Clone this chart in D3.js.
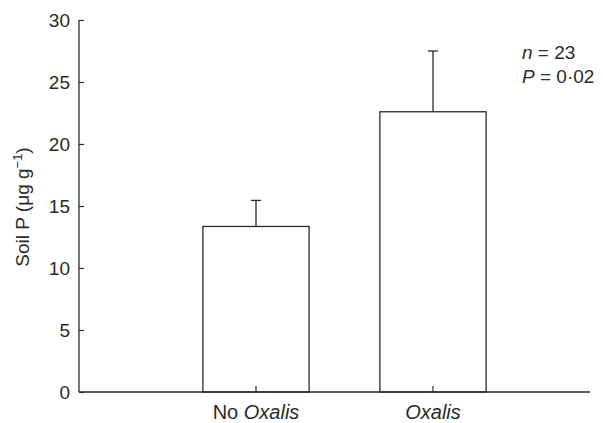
<!DOCTYPE html>
<html><head><meta charset="utf-8">
<script src="https://cdn.jsdelivr.net/npm/d3@7"></script>
<style>body{margin:0;background:#fff;} svg{display:block;font-family:"Liberation Sans",Arial,sans-serif;}</style>
</head><body><svg id="c" width="603" height="423"></svg>
<script>
const categories = ["No Oxalis", "Oxalis"];
const means = [13.35, 22.6];
const errors = [2.1, 4.9];
const yTicks = [0, 5, 10, 15, 20, 25, 30];

const svg = d3.select("#c");
const ink = "#2a2a2a";
const y = d3.scaleLinear().domain([0, 30]).range([392, 20]);
const x = d3.scaleBand().domain(categories).range([167.5, 521.5]).paddingInner(0.4).paddingOuter(0.2);
const axisLeftX = 79, axisRightX = 590;

// y axis
const ya = svg.append("g").attr("transform", `translate(${axisLeftX},0)`)
  .call(d3.axisRight(y).tickValues(yTicks).tickSize(5).tickFormat(d3.format("d")));
ya.select(".domain").remove();
ya.selectAll(".tick line").attr("stroke", ink).attr("stroke-width", 1.2);
ya.selectAll(".tick text").attr("x", -9).attr("text-anchor", "end").attr("dy", "0.36em")
  .attr("fill", ink).style("font-size", "19px").style("font-family", '"Liberation Sans",Arial,sans-serif');
svg.append("line").attr("x1", axisLeftX).attr("x2", axisLeftX).attr("y1", y(30)).attr("y2", y(0))
  .attr("stroke", ink).attr("stroke-width", 1.3);

// bars
const g = svg.append("g");
g.selectAll("rect").data(categories).join("rect")
  .attr("x", d => x(d)).attr("width", x.bandwidth())
  .attr("y", (d, i) => y(means[i])).attr("height", (d, i) => y(0) - y(means[i]))
  .attr("fill", "#fff").attr("stroke", ink).attr("stroke-width", 1.3);
// error bars
categories.forEach((c, i) => {
  const cx = x(c) + x.bandwidth() / 2;
  g.append("line").attr("x1", cx).attr("x2", cx).attr("y1", y(means[i])).attr("y2", y(means[i] + errors[i]))
    .attr("stroke", ink).attr("stroke-width", 1.3);
  g.append("line").attr("x1", cx - 5).attr("x2", cx + 5).attr("y1", y(means[i] + errors[i])).attr("y2", y(means[i] + errors[i]))
    .attr("stroke", ink).attr("stroke-width", 1.3);
  // inner x tick
  g.append("line").attr("x1", cx).attr("x2", cx).attr("y1", y(0)).attr("y2", y(0) - 6)
    .attr("stroke", ink).attr("stroke-width", 1.2);
});

// x axis line
svg.append("line").attr("x1", axisLeftX).attr("x2", axisRightX).attr("y1", y(0)).attr("y2", y(0))
  .attr("stroke", ink).attr("stroke-width", 1.3);

// x labels
categories.forEach(c => {
  const t = svg.append("text").attr("x", x(c) + x.bandwidth() / 2).attr("y", 419)
    .attr("text-anchor", "middle").attr("fill", ink).style("font-size", "20px");
  if (c.startsWith("No ")) {
    t.append("tspan").text("No ");
    t.append("tspan").attr("font-style", "italic").text("Oxalis");
  } else {
    t.append("tspan").attr("font-style", "italic").text(c);
  }
});

// y label
const yl = svg.append("text").attr("transform", "translate(29,207) rotate(-90)")
  .attr("text-anchor", "middle").attr("fill", ink).style("font-size", "19px");
yl.append("tspan").text("Soil P (\u03bcg g");
yl.append("tspan").attr("dy", "-7").style("font-size", "13px").text("\u22121");
yl.append("tspan").attr("dy", "7").text(")");

// annotation
const a1 = svg.append("text").attr("x", 522).attr("y", 59).attr("fill", ink).style("font-size", "19px");
a1.append("tspan").attr("font-style", "italic").text("n");
a1.append("tspan").text(" = 23");
const a2 = svg.append("text").attr("x", 522).attr("y", 83).attr("fill", ink).style("font-size", "19px");
a2.append("tspan").attr("font-style", "italic").text("P");
a2.append("tspan").text(" = 0\u00b702");
</script></body></html>
